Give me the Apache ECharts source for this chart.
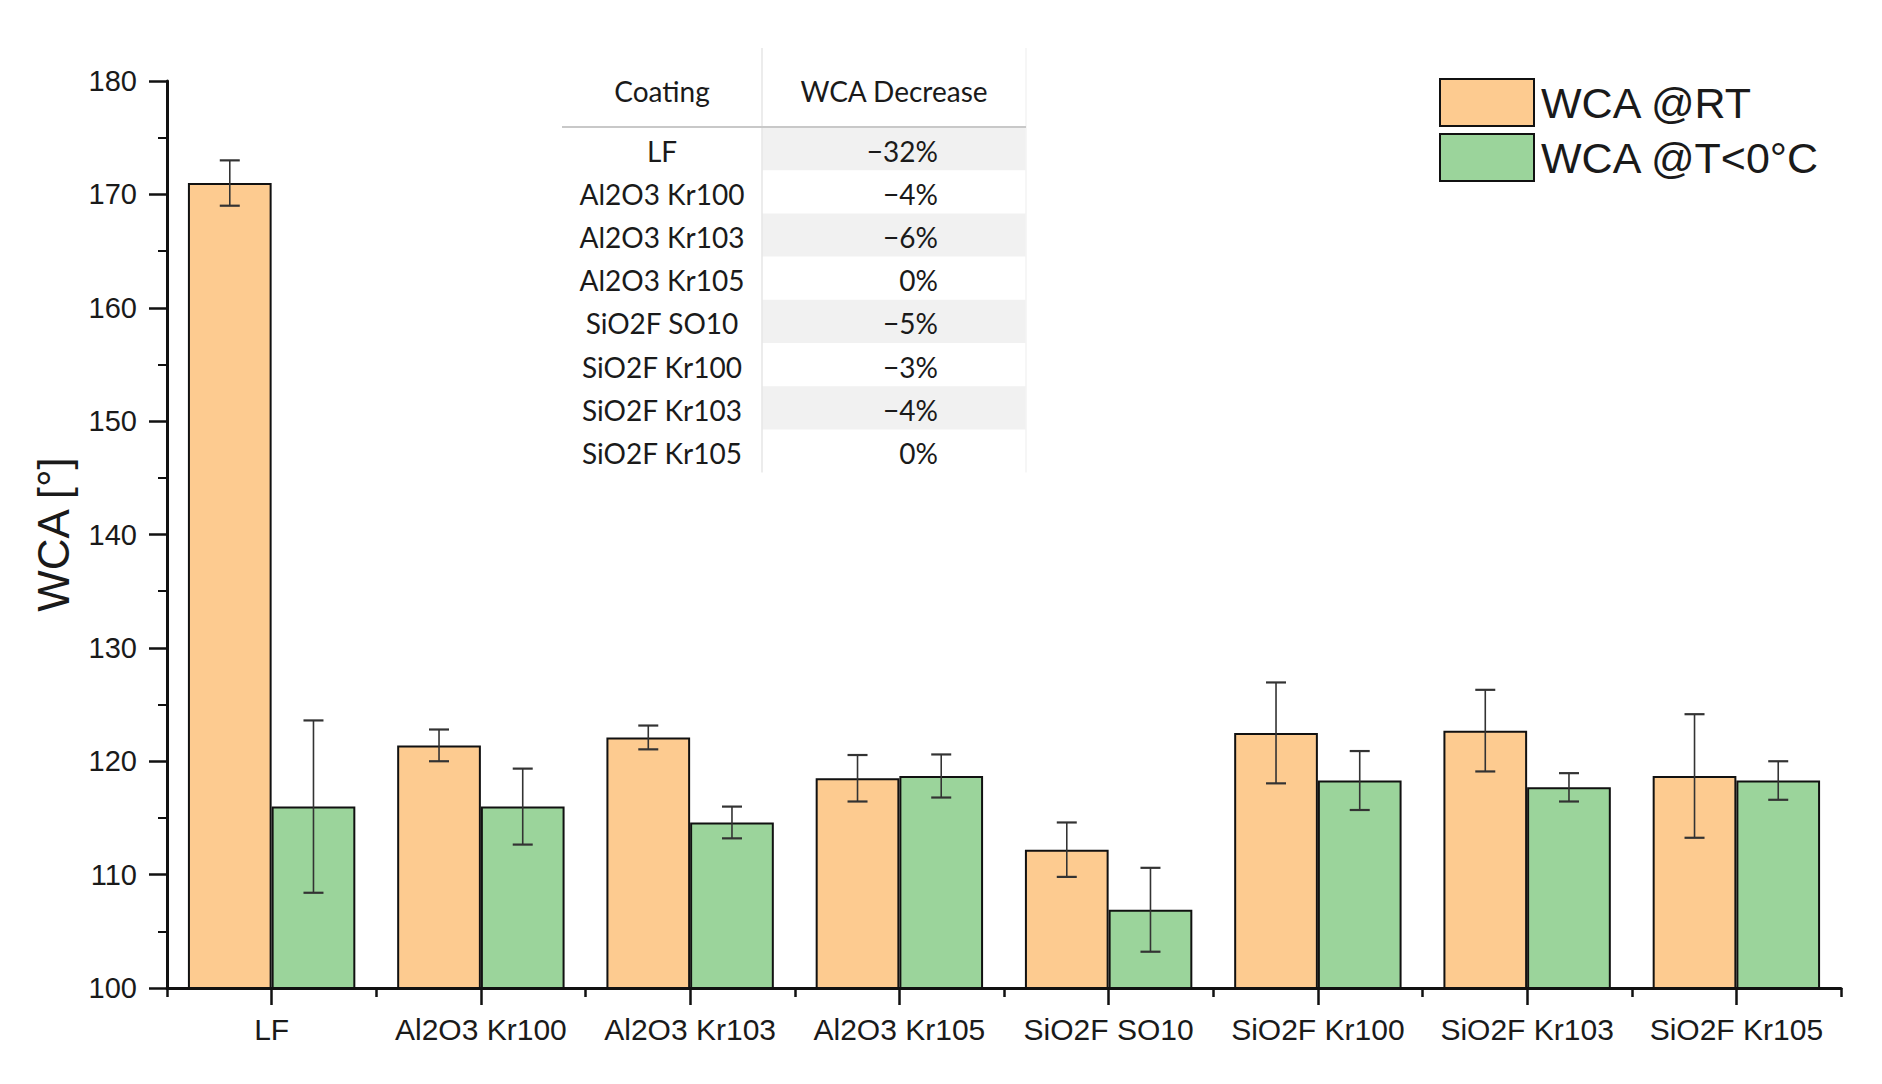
<!DOCTYPE html>
<html>
<head>
<meta charset="utf-8">
<script src="https://cdn.jsdelivr.net/npm/echarts@6/dist/echarts.min.js"></script>
<style>
html,body{margin:0;padding:0;background:#fff;}
#chart{width:1882px;height:1084px;}
</style>
</head>
<body>
<div id="chart"></div>
<script>
// ---- data ----
const categories = ['LF','Al2O3 Kr100','Al2O3 Kr103','Al2O3 Kr105','SiO2F SO10','SiO2F Kr100','SiO2F Kr103','SiO2F Kr105'];
const wcaRT      = [171.0, 121.4, 122.1, 118.5, 112.2, 122.5, 122.7, 118.7];
const wcaRTErr   = [2.0, 1.4, 1.05, 2.05, 2.4, 4.45, 3.6, 5.45];
const wcaCold    = [116.0, 116.0, 114.6, 118.7, 106.9, 118.3, 117.7, 118.3];
const wcaColdErr = [7.6, 3.35, 1.4, 1.9, 3.7, 2.6, 1.25, 1.7];
const seriesNames = ['WCA @RT', 'WCA @T<0°C'];
const yTicks = [100, 110, 120, 130, 140, 150, 160, 170, 180];
const tableHeader = ['Coating', 'WCA Decrease'];
const tableCoatings = ['LF','Al2O3 Kr100','Al2O3 Kr103','Al2O3 Kr105','SiO2F SO10','SiO2F Kr100','SiO2F Kr103','SiO2F Kr105'];
const tableDecrease = ['\u221232%','\u22124%','\u22126%','0%','\u22125%','\u22123%','\u22124%','0%'];

// ---- styling ----
const orange = '#FDCB90';
const green = '#9BD49B';
const textColor = '#1a1a1a';
const axisFont = 'Liberation Sans, Arial, sans-serif';
const tableFont = 'Lato, "Open Sans", sans-serif';

function errData(vals, errs) {
  return vals.map((v, i) => [i, v - errs[i], v + errs[i]]);
}

function errRender(sign) {
  return function (params, api) {
    const idx = api.value(0);
    const lo = api.coord([idx, api.value(1)]);
    const hi = api.coord([idx, api.value(2)]);
    const band = api.size([1, 0])[0];
    const x = lo[0] + sign * band * 0.2;
    const cap = 10;
    const st = { stroke: '#333', lineWidth: 1.6, fill: null };
    return {
      type: 'group',
      children: [
        { type: 'line', shape: { x1: x, y1: lo[1], x2: x, y2: hi[1] }, style: st },
        { type: 'line', shape: { x1: x - cap, y1: lo[1], x2: x + cap, y2: lo[1] }, style: { stroke: '#333', lineWidth: 2.2 } },
        { type: 'line', shape: { x1: x - cap, y1: hi[1], x2: x + cap, y2: hi[1] }, style: { stroke: '#333', lineWidth: 2.2 } }
      ]
    };
  };
}

// ---- table as graphic ----
const tLeft = 562, tMid = 762, tRight = 1026, tTop = 48, headLine = 127, rowH = 43.2;
const tFontSize = 28;
const graphics = [];
tableCoatings.forEach((c, i) => {
  const top = headLine + i * rowH;
  if (i % 2 === 0) {
    graphics.push({ type: 'rect', shape: { x: tMid, y: top, width: tRight - tMid, height: rowH }, style: { fill: '#f1f1f1' }, silent: true });
  }
});
graphics.push({ type: 'line', shape: { x1: tMid, y1: tTop, x2: tMid, y2: headLine + tableCoatings.length * rowH }, style: { stroke: '#e6e6e6', lineWidth: 1.5 }, silent: true });
graphics.push({ type: 'line', shape: { x1: tRight, y1: tTop, x2: tRight, y2: headLine + tableCoatings.length * rowH }, style: { stroke: '#f3f3f3', lineWidth: 1.5 }, silent: true });
graphics.push({ type: 'line', shape: { x1: tLeft, y1: headLine, x2: tRight, y2: headLine }, style: { stroke: '#c8c8c8', lineWidth: 2 }, silent: true });
graphics.push({ type: 'text', x: (tLeft + tMid) / 2, y: 91, style: { text: tableHeader[0], font: tFontSize + 'px ' + tableFont, fill: textColor, align: 'center', verticalAlign: 'middle' } });
graphics.push({ type: 'text', x: (tMid + tRight) / 2, y: 91, style: { text: tableHeader[1], font: tFontSize + 'px ' + tableFont, fill: textColor, align: 'center', verticalAlign: 'middle' } });
tableCoatings.forEach((c, i) => {
  const cy = headLine + i * rowH + rowH / 2 + 2;
  graphics.push({ type: 'text', x: (tLeft + tMid) / 2, y: cy, style: { text: c, font: tFontSize + 'px ' + tableFont, fill: textColor, align: 'center', verticalAlign: 'middle' } });
  graphics.push({ type: 'text', x: 938, y: cy, style: { text: tableDecrease[i], font: tFontSize + 'px ' + tableFont, fill: textColor, align: 'right', verticalAlign: 'middle' } });
});

const chart = echarts.init(document.getElementById('chart'), null, { renderer: 'svg' });
chart.setOption({
  backgroundColor: '#fff',
  animation: false,
  grid: { left: 167, right: 41, top: 81, bottom: 96, containLabel: false },
  legend: {
    orient: 'vertical',
    left: 1434,
    top: 73,
    itemWidth: 94,
    itemHeight: 47,
    itemGap: 6,
    icon: 'rect',
    textStyle: { fontSize: 43, fontFamily: axisFont, color: textColor, padding: [0, 0, 0, 2] },
    data: seriesNames
  },
  xAxis: [
    {
      type: 'category',
      data: categories,
      axisLine: { lineStyle: { color: '#111', width: 3 } },
      axisTick: { show: true, interval: 0, alignWithLabel: true, length: 17, lineStyle: { color: '#111', width: 2.5 } },
      axisLabel: { interval: 0, fontSize: 30, fontFamily: axisFont, color: textColor, margin: 26 },
      splitLine: { show: false }
    },
    {
      type: 'category',
      data: categories,
      position: 'bottom',
      axisLine: { show: false },
      axisTick: { show: true, interval: 0, alignWithLabel: false, length: 9, lineStyle: { color: '#111', width: 2.5 } },
      axisLabel: { show: false },
      splitLine: { show: false }
    }
  ],
  yAxis: {
    type: 'value',
    min: yTicks[0],
    max: yTicks[yTicks.length - 1],
    interval: yTicks[1] - yTicks[0],
    name: 'WCA [°]',
    nameLocation: 'middle',
    nameGap: 92,
    nameTextStyle: { fontSize: 44, fontFamily: axisFont, color: textColor },
    axisLine: { show: true, lineStyle: { color: '#111', width: 3 } },
    axisTick: { show: true, length: 18, lineStyle: { color: '#111', width: 2.5 } },
    minorTick: { show: true, splitNumber: 2, length: 9, lineStyle: { color: '#111', width: 2 } },
    axisLabel: { fontSize: 29, fontFamily: axisFont, color: textColor, margin: 30 },
    splitLine: { show: false }
  },
  graphic: graphics,
  series: [
    {
      name: seriesNames[0],
      type: 'bar',
      data: wcaRT,
      barGap: '0%',
      barCategoryGap: '20%',
      itemStyle: { color: orange, borderColor: '#111', borderWidth: 2 },
      z: 2
    },
    {
      name: seriesNames[1],
      type: 'bar',
      data: wcaCold,
      barGap: '0%',
      barCategoryGap: '20%',
      itemStyle: { color: green, borderColor: '#111', borderWidth: 2 },
      z: 2
    },
    {
      type: 'custom',
      name: 'errRT',
      data: errData(wcaRT, wcaRTErr),
      renderItem: errRender(-1),
      encode: { x: 0, y: [1, 2] },
      z: 5,
      silent: true
    },
    {
      type: 'custom',
      name: 'errCold',
      data: errData(wcaCold, wcaColdErr),
      renderItem: errRender(1),
      encode: { x: 0, y: [1, 2] },
      z: 5,
      silent: true
    }
  ]
});
</script>
</body>
</html>
